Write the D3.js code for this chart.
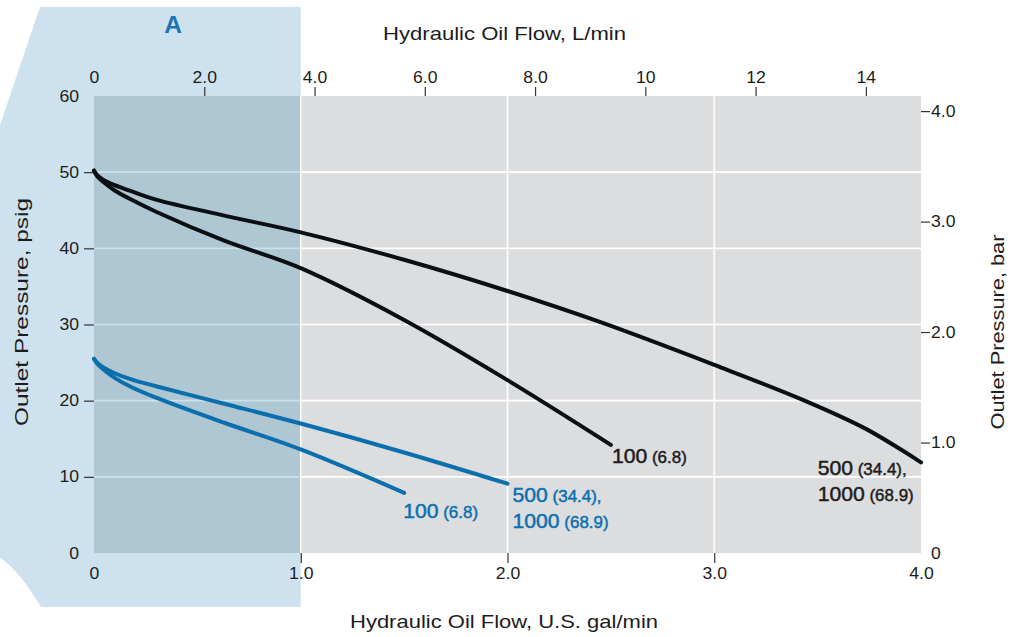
<!DOCTYPE html>
<html><head><meta charset="utf-8">
<script src="https://cdn.jsdelivr.net/npm/d3@7"></script>
<style>
html,body{margin:0;padding:0;background:#fff;}
svg text{font-family:"Liberation Sans",Arial,Helvetica,sans-serif;}
</style>
</head><body>
<svg id="chart" width="1018" height="637"></svg>
<script>
// ---- data (flow in U.S. gal/min, outlet pressure in psig) ----
const black500Flow = [0, 0.015, 0.05, 0.1, 0.18, 0.3, 0.63, 1.0, 1.5, 2.0, 2.45, 3.0, 3.42, 3.74, 4.0];
const black500Psi  = [50.2, 49.6, 48.9, 48.3, 47.5, 46.4, 44.3, 42.1, 38.5, 34.4, 30.3, 24.7, 20.2, 16.2, 11.9];
const black100Flow = [0, 0.015, 0.05, 0.1, 0.18, 0.3, 0.63, 1.0, 1.5, 2.0, 2.5];
const black100Psi  = [50.2, 49.5, 48.6, 47.6, 46.4, 44.8, 41.0, 37.4, 30.6, 22.7, 14.2];
const blue500Flow  = [0, 0.015, 0.05, 0.1, 0.18, 0.3, 0.63, 1.0, 1.5, 2.0];
const blue500Psi   = [25.5, 25.0, 24.3, 23.6, 22.8, 21.9, 19.6, 17.0, 13.2, 9.1];
const blue100Flow  = [0, 0.015, 0.05, 0.1, 0.18, 0.3, 0.63, 1.0, 1.5];
const blue100Psi   = [25.5, 24.9, 24.0, 23.0, 21.8, 20.4, 17.1, 13.6, 7.9];

const galTicks  = [0, 1, 2, 3, 4];
const lpmTicks  = [0, 2, 4, 6, 8, 10, 12, 14];
const psiTicks  = [0, 10, 20, 30, 40, 50, 60];
const barTicks  = [0, 1, 2, 3, 4];
const PSI_PER_BAR = 14.5038;
const LPM_MAX = 15;

const labelBlack100 = ["100", " (6.8)"];
const labelBlack500 = [["500", " (34.4),"], ["1000", " (68.9)"]];
const labelBlue100  = ["100", " (6.8)"];
const labelBlue500  = [["500", " (34.4),"], ["1000", " (68.9)"]];

// ---- layout ----
const L = 94, R = 921, T = 96, B = 553;
const svg = d3.select("#chart");

const x = d3.scaleLinear().domain([0, 4]).range([L, R]);
const xTop = d3.scaleLinear().domain([0, LPM_MAX]).range([L, R]);
const y = d3.scaleLinear().domain([0, 60]).range([B, T]);
const yBar = d3.scaleLinear().domain([0, 60 / PSI_PER_BAR]).range([B, T]);

const BLACK = "#0a0f14", BLUE = "#0b6fae", TXT = "#1c1c1c";

// light blue "A" zone
svg.append("path")
  .attr("d", `M40,7 L${x(1)},7 L${x(1)},607 L41,607 Q19.5,571 0,557.5 L0,125 Z`)
  .attr("fill", "#cde2ee");

// plot background
svg.append("rect").attr("x", L).attr("y", T).attr("width", R - L).attr("height", B - T).attr("fill", "#dcdddf");

// gridlines
const grid = svg.append("g").attr("stroke", "#fff").attr("stroke-width", 1.6);
grid.selectAll("line.h").data(psiTicks.filter(d => d > 0 && d < 60)).join("line")
  .attr("x1", L).attr("x2", R).attr("y1", d => y(d)).attr("y2", d => y(d));
grid.selectAll("line.v").data(galTicks.filter(d => d > 0 && d < 4)).join("line")
  .attr("x1", d => x(d)).attr("x2", d => x(d)).attr("y1", T).attr("y2", B);

// darker overlay in zone A inside the plot
svg.append("rect").attr("x", L).attr("y", T).attr("width", x(1) - L - 0.8).attr("height", B - T)
  .attr("fill", "rgb(16,121,166)").attr("fill-opacity", 0.22);

// axes
function styleAxis(g, hideVals, sx) {
  g.select(".domain").remove();
  g.selectAll(".tick line").attr("stroke", "#333").attr("stroke-width", 1.2)
    .attr("opacity", d => hideVals.includes(d) ? 0 : 1);
  g.selectAll(".tick text").each(function() {
    const t = d3.select(this);
    const tx = +t.attr("x") || 0, ty = +t.attr("y") || 0;
    t.attr("x", 0).attr("y", 0).attr("transform", `translate(${tx},${ty}) scale(${sx},1)`);
  });
  g.attr("font-size", 16).attr("fill", TXT).attr("font-family", null);
  g.selectAll(".tick text").attr("fill", TXT);
}
const fmtOne = d => d === 0 ? "0" : d3.format(".1f")(d);

svg.append("g").attr("transform", `translate(${L},0)`)
  .call(d3.axisLeft(y).tickValues(psiTicks).tickSize(10).tickPadding(5).tickFormat(d3.format("d")))
  .call(g => styleAxis(g, [0, 60], 1.1));

svg.append("g").attr("transform", `translate(${R},0)`)
  .call(d3.axisRight(yBar).tickValues(barTicks).tickSize(9).tickPadding(1).tickFormat(fmtOne))
  .call(g => styleAxis(g, [0], 1.1));

svg.append("g").attr("transform", `translate(0,${B})`)
  .call(d3.axisBottom(x).tickValues(galTicks).tickSize(10).tickPadding(5).tickFormat(fmtOne))
  .call(g => styleAxis(g, [0, 4], 1.1));

svg.append("g").attr("transform", `translate(0,${T})`)
  .call(d3.axisTop(xTop).tickValues(lpmTicks).tickSize(9).tickPadding(4)
    .tickFormat(d => d === 0 ? "0" : (d < 10 ? d3.format(".1f")(d) : String(d))))
  .call(g => styleAxis(g, [0], 1.1));

// curves
const line = d3.line().x(d => x(d[0])).y(d => y(d[1])).curve(d3.curveCatmullRom.alpha(0.5));
const series = [
  {flow: black500Flow, psi: black500Psi, color: BLACK},
  {flow: black100Flow, psi: black100Psi, color: BLACK},
  {flow: blue500Flow,  psi: blue500Psi,  color: BLUE},
  {flow: blue100Flow,  psi: blue100Psi,  color: BLUE},
];
svg.append("g").selectAll("path").data(series).join("path")
  .attr("d", s => line(s.flow.map((f, i) => [f, s.psi[i]])))
  .attr("fill", "none").attr("stroke", s => s.color).attr("stroke-width", 4)
  .attr("stroke-linecap", "round").attr("stroke-linejoin", "round");

// curve labels
function curveLabel(px, py, parts, color) {
  const t = svg.append("text").attr("transform", `translate(${px},${py}) scale(1.06,1)`)
    .attr("fill", color).attr("stroke", color).attr("stroke-width", 0.45);
  t.append("tspan").attr("font-size", 20).text(parts[0]);
  t.append("tspan").attr("font-size", 16).text(parts[1]);
}
curveLabel(x(2.5) + 1, y(14.2) + 18, labelBlack100, TXT);
curveLabel(x(3.5), y(11.9) + 13, labelBlack500[0], TXT);
curveLabel(x(3.5), y(11.9) + 39, labelBlack500[1], TXT);
curveLabel(x(1.5) - 1, y(7.9) + 25, labelBlue100, BLUE);
curveLabel(x(2.0) + 5, y(9.1) + 18, labelBlue500[0], BLUE);
curveLabel(x(2.0) + 5, y(9.1) + 44, labelBlue500[1], BLUE);

// titles
function title(px, py, str, len, rot) {
  svg.append("text").attr("transform", `translate(${px},${py})` + (rot ? " rotate(-90)" : ""))
    .attr("text-anchor", "middle").attr("font-size", 18.5).attr("fill", TXT)
    .attr("textLength", len).attr("lengthAdjust", "spacingAndGlyphs").text(str);
}
title(504.5, 40, "Hydraulic Oil Flow, L/min", 243);
title(504, 628, "Hydraulic Oil Flow, U.S. gal/min", 308);
title(27.5, 312, "Outlet Pressure, psig", 228, true);
title(1004, 332, "Outlet Pressure, bar", 195, true);

// zone marker
svg.append("text").attr("x", 173).attr("y", 33).attr("text-anchor", "middle")
  .attr("font-size", 24.5).attr("font-weight", "bold").attr("fill", "#1a75b5").text("A");
</script>
</body></html>
